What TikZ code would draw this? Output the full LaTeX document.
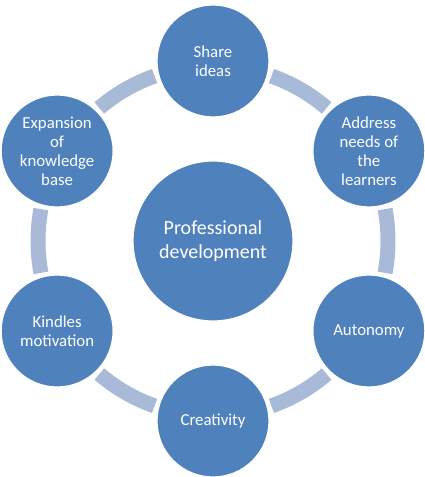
\documentclass[tikz,border=0pt]{standalone}
\usepackage{fontspec}
\setmainfont{Carlito}
\definecolor{circblue}{RGB}{79,129,189}
\definecolor{ringblue}{RGB}{168,186,216}
\begin{document}
\begin{tikzpicture}[x=1pt,y=1pt,
  outer/.style={circle,fill=circblue,draw=white,line width=1.2pt,minimum size=112pt,inner sep=0pt,align=center,text=white,font=\fontsize{16.8}{19}\selectfont},
  hub/.style={circle,fill=circblue,draw=white,line width=1.2pt,minimum size=160pt,inner sep=0pt,align=center,text=white,font=\fontsize{20}{24}\selectfont},
  ring/.style={draw=ringblue,line width=15pt}]
\useasboundingbox (0,0) rectangle (425,477);
\coordinate (c) at (213,236);
% connector arcs
\foreach \m in {60,0,-60,-120,180,120}{
  \draw[ring] (c) ++(\m-10.5:175pt) arc[start angle=\m-10.5, end angle=\m+10.5, radius=175pt];
}
\node[hub] (hub) at (c) {Professional\\development};
\path (c) ++(90:180pt) node[outer] (n1) {Share\\ideas};
\path (c) ++(30:180pt) node[outer] (n2) {Address\\needs of\\the\\learners};
\path (c) ++(-30:180pt) node[outer] (n3) {Autonomy};
\path (c) ++(-90:180pt) node[outer] (n4) {Creativity};
\path (c) ++(-150:180pt) node[outer] (n5) {Kindles\\motivation};
\path (c) ++(150:180pt) node[outer] (n6) {Expansion\\of\\knowledge\\base};
\end{tikzpicture}
\end{document}
